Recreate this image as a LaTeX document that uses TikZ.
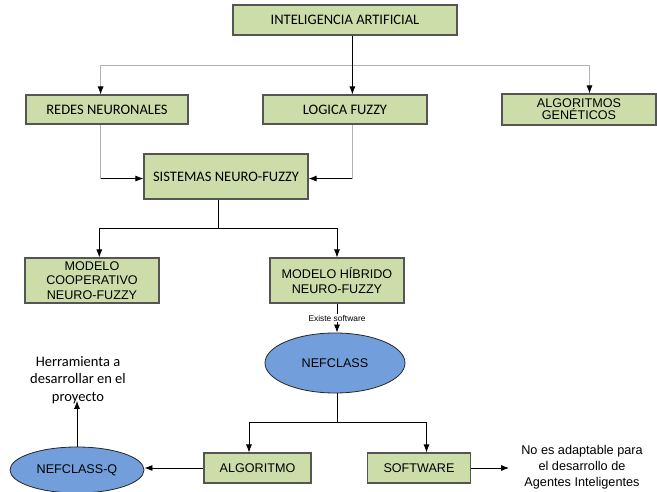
\documentclass[tikz,border=0pt]{standalone}
\usepackage{fontspec}
\setmainfont{Liberation Sans}
\newfontfamily\calibri{Carlito}
\usetikzlibrary{arrows.meta,shapes.geometric}
\definecolor{cajaverde}{RGB}{204,221,170}
\definecolor{elipseazul}{RGB}{114,159,220}
\definecolor{bordecaja}{RGB}{85,85,85}

\begin{document}
\begin{tikzpicture}[x=1pt,y=-1pt,
	caja/.style={draw=bordecaja, line width=1.1pt, fill=cajaverde, inner sep=0pt, align=center,
		font=\fontsize{12.6}{14.7}\selectfont},
	cajac/.style={caja, font=\calibri\fontsize{14.5}{16}\selectfont},
	elipse/.style={ellipse, draw=black!85, line width=0.8pt, fill=elipseazul, inner sep=0pt,
		font=\fontsize{12.6}{14}\selectfont},
	flecha/.style={-{Latex[length=8pt,width=6pt,color=black]}, line width=0.8pt},
	gris/.style={draw=gray!60, line width=0.8pt},
	etiqueta/.style={fill=white, inner sep=1pt, font=\fontsize{8.4}{9}\selectfont}]
	\useasboundingbox (0,0) rectangle (657,492);
	% nodos
	\node[cajac, minimum width=224pt, minimum height=30pt] (ia) at (345,20) {INTELIGENCIA ARTIFICIAL};
	\node[cajac, minimum width=162pt, minimum height=29pt] (redes) at (107,109.5) {REDES NEURONALES};
	\node[cajac, minimum width=164pt, minimum height=29pt] (logica) at (345,109.5) {LOGICA FUZZY};
	\node[caja, minimum width=154pt, minimum height=31pt, font=\fontsize{12.6}{12.2}\selectfont] (genet) at (579,109.5) {ALGORITMOS\\GENÉTICOS};
	\node[cajac, minimum width=164pt, minimum height=45pt] (snf) at (226,176.5) {SISTEMAS NEURO-FUZZY};
	\node[caja, minimum width=134pt, minimum height=45pt] (coop) at (92,280.5) {MODELO\\COOPERATIVO\\NEURO-FUZZY};
	\node[caja, minimum width=134pt, minimum height=45pt] (hibrido) at (337,280.5) {MODELO HÍBRIDO\\NEURO-FUZZY};
	\node[elipse, minimum width=140pt, minimum height=60pt] (nef) at (335,363) {NEFCLASS};
	\node[caja, minimum width=107pt, minimum height=30pt] (algo) at (257.5,468) {ALGORITMO};
	\node[caja, minimum width=103pt, minimum height=30pt] (soft) at (419,468) {SOFTWARE};
	\node[elipse, minimum width=134pt, minimum height=46pt] (nefq) at (77,470) {NEFCLASS-Q};
	\node[align=center, inner sep=0pt, font=\calibri\fontsize{14.5}{17.5}\selectfont] (herr) at (78,380) {Herramienta a\\desarrollar en el\\proyecto};
	\node[align=center, inner sep=0pt, font=\fontsize{12.7}{16}\selectfont] (nota) at (582,467) {No es adaptable para\\el desarrollo de\\Agentes Inteligentes};
	% conectores
	\draw[gris, {Latex[length=8pt,width=6pt,color=black]}-{Latex[length=8pt,width=6pt,color=black]}]
		([xshift=-6.4pt]redes.north) -- ++(0,-29) -| ([xshift=10.5pt]genet.north);
	\draw[flecha] ([xshift=7.4pt]ia.south) -- ([xshift=7.4pt]logica.north);
	\path ([xshift=-6.4pt]redes.south) ++(0,54) coordinate (codoA);
	\path ([xshift=7.4pt]logica.south) ++(0,54) coordinate (codoB);
	\draw[gris] ([xshift=-6.4pt]redes.south) -- (codoA);
	\draw[gris] ([xshift=7.4pt]logica.south) -- (codoB);
	\draw[flecha] (codoA) -- (codoA -| snf.west);
	\draw[flecha] (codoB) -- (codoB -| snf.east);
	\path ([xshift=-7.7pt]snf.south) ++(0,29) coordinate (ramalB);
	\draw[line width=0.8pt] ([xshift=-7.7pt]snf.south) -- (ramalB);
	\draw[flecha] (ramalB) -| ([xshift=7.3pt]coop.north);
	\draw[flecha] (ramalB) -| (hibrido.north);
	\draw[flecha] (hibrido.south) -- node[etiqueta] {Existe software} (hibrido.south |- nef.north);
	\path (hibrido.south |- nef.south) ++(0,29) coordinate (ramalC);
	\draw[line width=0.8pt] (hibrido.south |- nef.south) -- (ramalC);
	\draw[flecha] (ramalC) -| ([xshift=-8.5pt]algo.north);
	\draw[flecha] (ramalC) -| ([xshift=7.5pt]soft.north);
	\draw[flecha] (algo.west) -- (algo.west -| nefq.east);
	\draw[flecha] (nefq.north) -- ([yshift=3pt]nefq.north |- herr.south);
	\draw[flecha, shorten >=12pt] (soft.east) -- (soft.east -| nota.west);
\end{tikzpicture}
\end{document}
